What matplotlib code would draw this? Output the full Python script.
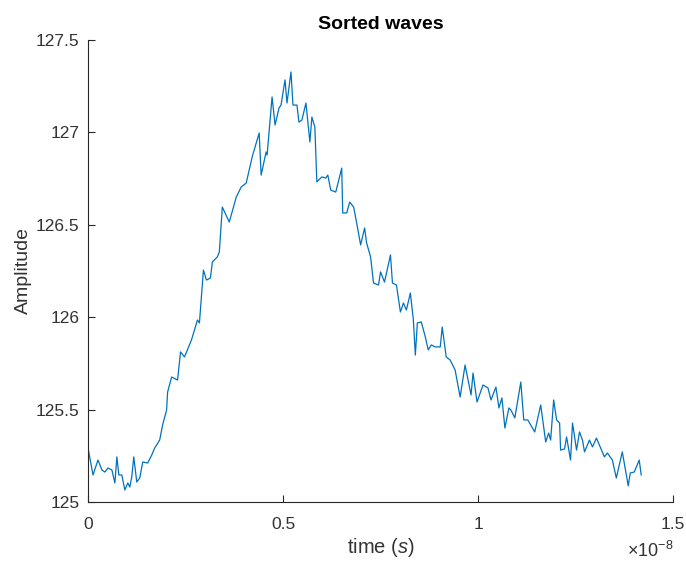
import numpy as np
import matplotlib
matplotlib.use("Agg")
import matplotlib.pyplot as plt
from matplotlib.ticker import FuncFormatter

plt.rcParams['font.family'] = ['Liberation Sans', 'DejaVu Sans']
plt.rcParams['mathtext.fontset'] = 'custom'
plt.rcParams['mathtext.rm'] = 'Liberation Sans'
plt.rcParams['mathtext.it'] = 'Liberation Sans:italic'

# sorted wave samples, time in ns
time_ns = [0.000, 0.128, 0.255, 0.357, 0.434, 0.510, 0.612, 0.689, 0.740, 0.791,
           0.867, 0.944, 1.020, 1.071, 1.122, 1.173, 1.250, 1.327, 1.403, 1.531,
           1.633, 1.709, 1.837, 1.913, 2.015, 2.041, 2.143, 2.296, 2.372, 2.474,
           2.653, 2.806, 2.857, 2.959, 3.036, 3.138, 3.189, 3.316, 3.367, 3.444,
           3.622, 3.801, 3.929, 4.056, 4.209, 4.388, 4.439, 4.566, 4.592, 4.719,
           4.796, 4.898, 4.949, 5.051, 5.102, 5.204, 5.255, 5.357, 5.408, 5.485,
           5.587, 5.689, 5.740, 5.816, 5.867, 5.995, 6.097, 6.148, 6.224, 6.352,
           6.505, 6.531, 6.633, 6.709, 6.811, 6.888, 6.990, 7.092, 7.143, 7.245,
           7.321, 7.449, 7.500, 7.602, 7.755, 7.806, 7.908, 8.010, 8.087, 8.163,
           8.265, 8.342, 8.393, 8.444, 8.546, 8.648, 8.724, 8.801, 8.903, 9.031,
           9.082, 9.184, 9.286, 9.413, 9.541, 9.668, 9.770, 9.821, 9.872, 9.974,
           10.128, 10.255, 10.332, 10.459, 10.536, 10.612, 10.689, 10.791, 10.842, 10.944,
           11.097, 11.173, 11.276, 11.454, 11.607, 11.735, 11.811, 11.862, 11.939, 12.015,
           12.092, 12.117, 12.219, 12.270, 12.372, 12.423, 12.526, 12.602, 12.679, 12.730,
           12.857, 12.934, 13.036, 13.240, 13.316, 13.444, 13.546, 13.699, 13.852, 13.903,
           14.005, 14.133, 14.184]

amplitude = [125.292, 125.146, 125.227, 125.173, 125.162, 125.184, 125.173, 125.103, 125.244, 125.146,
             125.146, 125.065, 125.103, 125.081, 125.135, 125.244, 125.108, 125.130, 125.216, 125.211,
             125.254, 125.292, 125.335, 125.417, 125.498, 125.595, 125.676, 125.660, 125.812, 125.785,
             125.877, 125.985, 125.969, 126.255, 126.201, 126.212, 126.299, 126.326, 126.353, 126.596,
             126.515, 126.650, 126.705, 126.726, 126.867, 126.997, 126.769, 126.894, 126.878, 127.192,
             127.040, 127.132, 127.148, 127.284, 127.159, 127.327, 127.148, 127.148, 127.056, 127.067,
             127.159, 126.948, 127.083, 127.029, 126.732, 126.759, 126.753, 126.769, 126.688, 126.677,
             126.807, 126.564, 126.564, 126.623, 126.596, 126.510, 126.391, 126.483, 126.402, 126.326,
             126.185, 126.174, 126.245, 126.190, 126.337, 126.185, 126.174, 126.028, 126.077, 126.039,
             126.131, 125.985, 125.795, 125.969, 125.974, 125.893, 125.823, 125.850, 125.839, 125.839,
             125.947, 125.785, 125.768, 125.714, 125.568, 125.741, 125.633, 125.579, 125.698, 125.541,
             125.633, 125.617, 125.552, 125.622, 125.509, 125.563, 125.400, 125.509, 125.498, 125.455,
             125.649, 125.444, 125.444, 125.379, 125.525, 125.325, 125.373, 125.335, 125.552, 125.444,
             125.427, 125.281, 125.287, 125.352, 125.227, 125.427, 125.281, 125.379, 125.335, 125.271,
             125.335, 125.298, 125.346, 125.244, 125.265, 125.227, 125.130, 125.271, 125.087, 125.157,
             125.162, 125.227, 125.146]

t = np.array(time_ns) * 1e-9

fig = plt.figure(figsize=(6.86, 5.61), dpi=100)
ax = fig.add_axes([0.1283, 0.1052, 0.8528, 0.8235])

ax.plot(t, amplitude, color='#0072BD', lw=0.9)

ax.set_xlim(0, 1.5e-8)
ax.set_ylim(125, 127.5)
ax.set_xticks([0, 0.5e-8, 1e-8, 1.5e-8])
ax.set_yticks([125, 125.5, 126, 126.5, 127, 127.5])
ax.xaxis.set_major_formatter(FuncFormatter(lambda v, _: f"{v / 1e-8:g}"))
ax.yaxis.set_major_formatter(FuncFormatter(lambda v, _: f"{v:g}"))

ax.spines['top'].set_visible(False)
ax.spines['right'].set_visible(False)
for s in ['left', 'bottom']:
    ax.spines[s].set_color('#262626')
    ax.spines[s].set_linewidth(0.8)
ax.tick_params(direction='in', length=5, width=0.8, colors='#262626',
               labelsize=12.5, labelcolor='#333333')
ax.tick_params(axis='y', pad=6)
ax.tick_params(axis='x', pad=11)

ax.set_xlabel('time $\\it{(s)}$', fontsize=14.5, color='#333333', labelpad=3)
ax.set_ylabel('Amplitude', fontsize=14, color='#333333', labelpad=3)
ax.set_title('Sorted waves', fontsize=14, fontweight='bold', color='black', pad=8)
ax.text(1.0, -0.085, '$\\times10^{-8}$', transform=ax.transAxes, ha='right', va='top',
        fontsize=13, color='#333333')

fig.savefig('out.png', dpi=100)
